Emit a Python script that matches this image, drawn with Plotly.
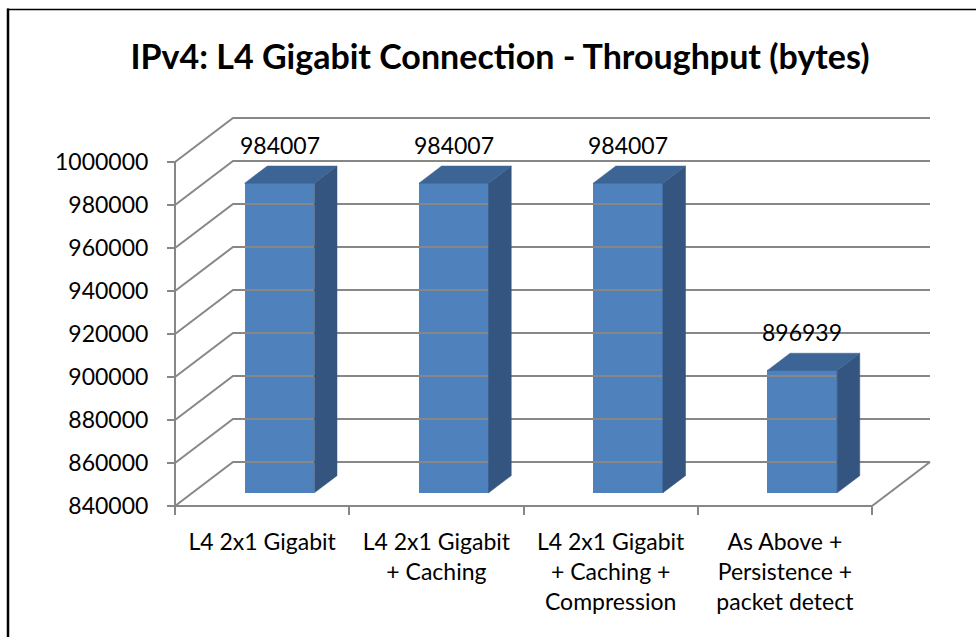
import plotly.graph_objects as go

# ---- data ----
categories = [
    "L4 2x1 Gigabit",
    "L4 2x1 Gigabit<br>+ Caching",
    "L4 2x1 Gigabit<br>+ Caching +<br>Compression",
    "As Above +<br>Persistence +<br>packet detect",
]
values = [984007, 984007, 984007, 896939]
y_ticks = [840000, 860000, 880000, 900000, 920000, 940000, 960000, 980000, 1000000]
title_text = "IPv4: L4 Gigabit Connection - Throughput (bytes)"

# ---- geometry (pseudo 3-D projection) ----
W, H = 976, 637
PX_PER_CAT = 174.25
VAL_PER_PX = 20000 / 43
DEPTH_X = 58 / PX_PER_CAT          # back wall shift in category units
DEPTH_Y = 44 * VAL_PER_PX          # back wall shift in value units
BAR_FRONT = 0.30                   # bar front face position (fraction of depth)
BAR_DEPTH = 0.39                   # bar depth (fraction of depth)
BAR_WIDTH = 0.40
Y0 = y_ticks[0]
Y1 = y_ticks[-1]
PAD = 4

front_left_px = 175
front_bottom_px = 506
plot_left = front_left_px - PAD
plot_right = front_left_px + (len(categories) + DEPTH_X) * PX_PER_CAT + PAD
plot_top = 114
plot_bottom = front_bottom_px + PAD

x_range = [-0.5 - PAD / PX_PER_CAT, len(categories) - 0.5 + DEPTH_X + PAD / PX_PER_CAT]
y_range = [Y0 - PAD * VAL_PER_PX, Y0 + (front_bottom_px - plot_top) * VAL_PER_PX]

GRID = "#878787"
FRONT = "#4F81BD"
SIDE = "#34557F"
TOP = "#3C6595"
FONT = "Lato"
FS = 23

fig = go.Figure()

xl = -0.5
xr = len(categories) - 0.5

# back wall gridlines with diagonal on side wall
for v in y_ticks:
    fig.add_trace(go.Scatter(
        x=[xl, xl + DEPTH_X, xr + DEPTH_X],
        y=[v, v + DEPTH_Y, v + DEPTH_Y],
        mode="lines", line=dict(color=GRID, width=2),
        hoverinfo="skip", showlegend=False))

# floor front edge + right edge, front vertical axis
fig.add_trace(go.Scatter(
    x=[xl, xl, None, xl, xr, xr + DEPTH_X],
    y=[Y1, Y0, None, Y0, Y0, Y0 + DEPTH_Y],
    mode="lines", line=dict(color=GRID, width=2),
    hoverinfo="skip", showlegend=False))

fx = BAR_FRONT * DEPTH_X
fy = BAR_FRONT * DEPTH_Y
dx = BAR_DEPTH * DEPTH_X
dy = BAR_DEPTH * DEPTH_Y
base = Y0 + fy

# side and top faces
for i, v in enumerate(values):
    left = i + fx - BAR_WIDTH / 2
    right = i + fx + BAR_WIDTH / 2
    top = v + fy
    fig.add_trace(go.Scatter(
        x=[right, right + dx, right + dx, right, right],
        y=[base, base + dy, top + dy, top, base],
        mode="lines", fill="toself", fillcolor=SIDE,
        line=dict(color=SIDE, width=0.5),
        hoverinfo="skip", showlegend=False))
    fig.add_trace(go.Scatter(
        x=[left, left + dx, right + dx, right, left],
        y=[top, top + dy, top + dy, top, top],
        mode="lines", fill="toself", fillcolor=TOP,
        line=dict(color=TOP, width=0.5),
        hoverinfo="skip", showlegend=False))

# front faces
fig.add_trace(go.Bar(
    x=[i + fx for i in range(len(values))],
    y=[v - Y0 for v in values],
    base=base,
    width=BAR_WIDTH,
    marker=dict(color=FRONT, line=dict(width=0)),
    hoverinfo="skip", showlegend=False))

# data labels
for i, v in enumerate(values):
    fig.add_annotation(
        x=i + fx, y=v + fy, xref="x", yref="y",
        text=str(v), showarrow=False,
        yanchor="middle", yshift=38,
        font=dict(family=FONT, size=FS, color="#000000"))

# frame lines (left and top border of chart area)
def px_x(px):
    return (px - plot_left) / (plot_right - plot_left)

def px_y(py):
    return (plot_bottom - py) / (plot_bottom - plot_top)

fig.add_shape(type="line", xref="paper", yref="paper",
              x0=px_x(8), x1=px_x(8), y0=px_y(8.5), y1=px_y(645),
              line=dict(color="#000000", width=2.5))
fig.add_shape(type="line", xref="paper", yref="paper",
              x0=px_x(7), x1=px_x(980), y0=px_y(9.5), y1=px_y(9.5),
              line=dict(color="#000000", width=1.5))

fig.update_layout(
    width=W, height=H,
    margin=dict(l=plot_left, r=W - plot_right, t=plot_top, b=H - plot_bottom, pad=0),
    paper_bgcolor="#FFFFFF", plot_bgcolor="rgba(0,0,0,0)",
    font=dict(family=FONT, size=FS, color="#000000"),
    title=dict(text="<b>" + title_text + "</b>", x=500 / W, xanchor="center",
               xref="container", y=1 - 57 / H, yref="container", yanchor="middle",
               font=dict(family=FONT, size=34, color="#000000")),
    bargap=0,
    xaxis=dict(
        range=x_range, showgrid=False, zeroline=False, showline=False,
        tickmode="array", tickvals=list(range(len(categories))), ticktext=categories,
        ticks="", anchor="free", position=PAD / (plot_bottom - plot_top),
        ticklabelstandoff=20,
        tickfont=dict(family=FONT, size=FS, color="#000000"),
        minor=dict(tickmode="array", tickvals=[k - 0.5 for k in range(len(categories) + 1)],
                   ticks="outside", ticklen=8, tickwidth=2, tickcolor=GRID, showgrid=False),
        fixedrange=True),
    yaxis=dict(
        range=y_range, showgrid=False, zeroline=False, showline=False,
        tickmode="array", tickvals=y_ticks, ticktext=[str(t) for t in y_ticks],
        ticks="outside", ticklen=8, tickwidth=2, tickcolor=GRID,
        ticklabelstandoff=14,
        anchor="free", position=PAD / (plot_right - plot_left),
        tickfont=dict(family=FONT, size=FS, color="#000000"),
        fixedrange=True),
)

fig.write_html("out.html")
